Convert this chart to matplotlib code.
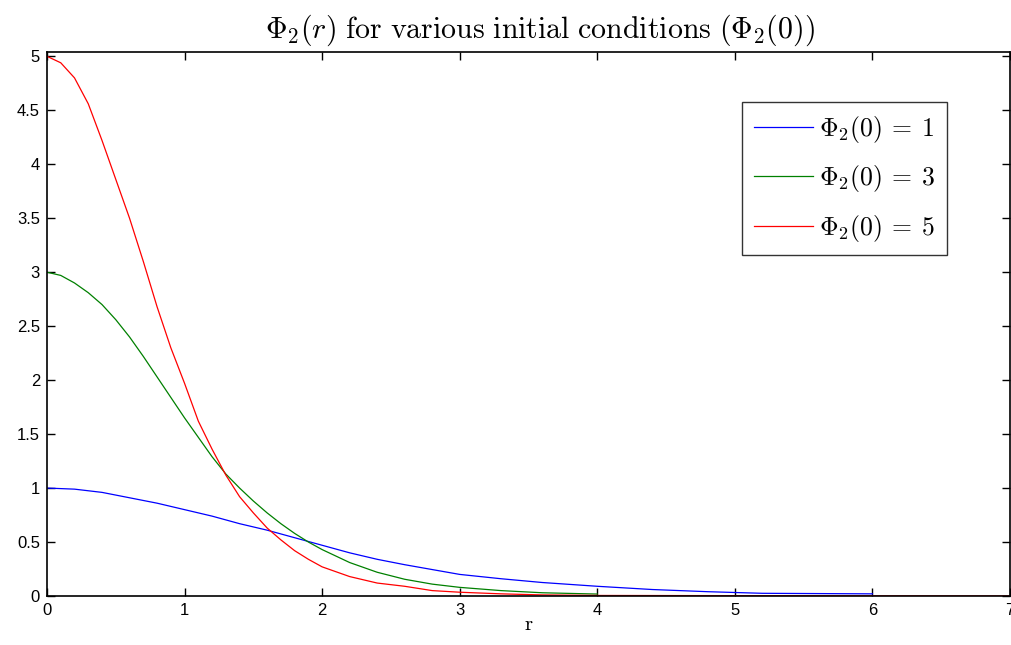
import matplotlib
matplotlib.use("Agg")
import matplotlib.pyplot as plt

plt.rcParams['mathtext.fontset'] = 'cm'
plt.rcParams['font.family'] = ['Liberation Sans', 'DejaVu Sans']

# data
r_blue = [0, 0.2, 0.4, 0.6, 0.8, 1.0, 1.2, 1.4, 1.6, 1.8, 2.0, 2.2, 2.4, 2.6, 2.8,
          3.0, 3.3, 3.6, 4.0, 4.4, 4.8, 5.2, 6.0]
phi_blue = [1.0, 0.99, 0.96, 0.91, 0.86, 0.80, 0.74, 0.67, 0.61, 0.54, 0.47, 0.40,
            0.34, 0.29, 0.245, 0.20, 0.16, 0.125, 0.09, 0.06, 0.04, 0.025, 0.02]

r_green = [0, 0.1, 0.2, 0.3, 0.4, 0.5, 0.6, 0.7, 0.8, 0.9, 1.0, 1.1, 1.2, 1.3, 1.4,
           1.5, 1.6, 1.7, 1.8, 1.9, 2.0, 2.2, 2.4, 2.6, 2.8, 3.0, 3.3, 3.6, 4.0]
phi_green = [3.0, 2.97, 2.90, 2.81, 2.70, 2.56, 2.40, 2.22, 2.03, 1.84, 1.65, 1.47,
             1.29, 1.13, 1.0, 0.88, 0.77, 0.67, 0.58, 0.50, 0.43, 0.31, 0.22, 0.155,
             0.11, 0.08, 0.05, 0.03, 0.018]

r_red = [0, 0.1, 0.2, 0.3, 0.4, 0.5, 0.6, 0.7, 0.8, 0.9, 1.0, 1.1, 1.2, 1.3, 1.4,
         1.5, 1.6, 1.7, 1.8, 1.9, 2.0, 2.2, 2.4, 2.6, 2.8, 3.0, 3.3, 3.6, 4.0, 7.0]
phi_red = [5.0, 4.94, 4.80, 4.56, 4.22, 3.86, 3.50, 3.10, 2.68, 2.30, 1.97, 1.62,
           1.36, 1.12, 0.92, 0.77, 0.63, 0.52, 0.42, 0.34, 0.27, 0.18, 0.12, 0.09,
           0.05, 0.035, 0.02, 0.01, 0.005, 0.0]

labels = [r'$\Phi_2(0)\:=\:1$', r'$\Phi_2(0)\:=\:3$', r'$\Phi_2(0)\:=\:5$']
colors = ['#0000ff', '#008000', '#ff0000']
xticks = [0, 1, 2, 3, 4, 5, 6, 7]
yticks = [0, 0.5, 1, 1.5, 2, 2.5, 3, 3.5, 4, 4.5, 5]
ytick_labels = ['0', '0.5', '1', '1.5', '2', '2.5', '3', '3.5', '4', '4.5', '5']

fig = plt.figure(figsize=(10.11, 6.45), dpi=100)
ax = fig.add_axes([47/1011, 49/645, (1010-47)/1011, (596-52)/645])

for rx, py, c, lab in zip([r_blue, r_green, r_red], [phi_blue, phi_green, phi_red], colors, labels):
    ax.plot(rx, py, color=c, lw=0.9, label=lab)

ax.set_xlim(0, 7)
ax.set_ylim(0, 5.04)
ax.set_xticks(xticks)
ax.set_xticklabels([str(t) for t in xticks])
ax.set_yticks(yticks)
ax.set_yticklabels(ytick_labels)
ax.tick_params(direction='in', length=6, width=1, top=True, right=True,
               labelsize=12, colors='black', pad=5)
for s in ax.spines.values():
    s.set_linewidth(1.2)

ax.set_title(r'$\Phi_2(r)\ \mathrm{for\ various\ initial\ conditions}\ (\Phi_2(0))$',
             fontsize=21.5, pad=10, x=0.512)
ax.set_xlabel(r'$\mathrm{r}$', fontsize=15, labelpad=-2)

leg = ax.legend(loc='upper left', bbox_to_anchor=((742-47)/963, (596-102)/544),
                fontsize=18.5, frameon=True, fancybox=False, edgecolor='black',
                handlelength=2.3, handletextpad=0.25, labelspacing=0.72,
                borderpad=0.45, borderaxespad=0)
leg.get_frame().set_linewidth(1.0)

fig.savefig('out.png', dpi=100)
